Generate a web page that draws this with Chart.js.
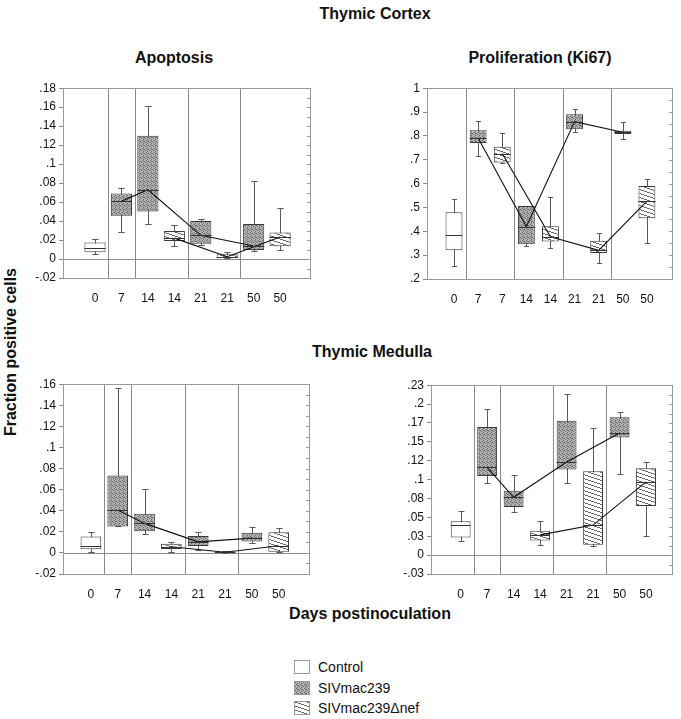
<!DOCTYPE html>
<html lang="en">
<head>
    <meta charset="UTF-8">
    <title>Thymic Cortex / Thymic Medulla</title>
    <script src="https://cdn.jsdelivr.net/npm/chart.js"></script>
    <style>
        body {
            margin: 0;
            width: 681px;
            height: 719px;
            position: relative;
            overflow: hidden;
            background: #ffffff;
            color: #111;
            font-family: "Liberation Sans", Arial, sans-serif;
        }
        .titulo {
            position: absolute;
            font-weight: bold;
            font-size: 16px;
            white-space: nowrap;
            transform: translate(-50%, -50%);
        }
        .vertical {
            transform: translate(-50%, -50%) rotate(-90deg);
        }
        canvas.panel { position: absolute; }
        .ley {
            position: absolute;
            left: 294px;
            font-size: 14px;
            display: flex;
            align-items: center;
            transform: translateY(-50%);
        }
        .ley canvas { border: 1px solid #999; margin-right: 8px; }
    </style>
</head>
<body>
    <div class="titulo" style="left:375px;top:14px">Thymic Cortex</div>
    <div class="titulo" style="left:174px;top:58px">Apoptosis</div>
    <div class="titulo" style="left:540px;top:58px">Proliferation (Ki67)</div>
    <div class="titulo" style="left:372px;top:352px">Thymic Medulla</div>
    <div class="titulo" style="left:370px;top:614px">Days postinoculation</div>
    <div class="titulo vertical" style="left:11px;top:352px">Fraction positive cells</div>

    <canvas class="panel" id="c1"></canvas>
    <canvas class="panel" id="c2"></canvas>
    <canvas class="panel" id="c3"></canvas>
    <canvas class="panel" id="c4"></canvas>

    <div class="ley" style="top:667px"><canvas id="l0" width="14" height="12"></canvas><span>Control</span></div>
    <div class="ley" style="top:688px"><canvas id="l1" width="14" height="12"></canvas><span>SIVmac239</span></div>
    <div class="ley" style="top:708px"><canvas id="l2" width="14" height="12"></canvas><span>SIVmac239&Delta;nef</span></div>

    <script>
        // grupos: 0 = Control, 1 = SIVmac239, 2 = SIVmac239Δnef
        const grupos = ['Control', 'SIVmac239', 'SIVmac239\u0394nef'];

        // corteza - apoptosis
        const diasApopC = ['0', '7', '14', '14', '21', '21', '50', '50'];
        const grupoApopC = [0, 1, 1, 2, 1, 2, 1, 2];
        const minApopC = [0.005, 0.028, 0.037, 0.014, 0.015, 0.0007, 0.0086, 0.010];
        const q1ApopC = [0.0072, 0.0456, 0.050, 0.019, 0.016, 0.001, 0.0096, 0.0134];
        const medApopC = [0.012, 0.061, 0.073, 0.022, 0.025, 0.0024, 0.0137, 0.0233];
        const q3ApopC = [0.0175, 0.069, 0.130, 0.0295, 0.040, 0.005, 0.037, 0.028];
        const maxApopC = [0.0216, 0.075, 0.161, 0.036, 0.0425, 0.0075, 0.082, 0.054];
        const ticksApopC = [-0.02, 0, 0.02, 0.04, 0.06, 0.08, 0.1, 0.12, 0.14, 0.16, 0.18];

        // corteza - proliferacion
        const diasKiC = ['0', '7', '7', '14', '14', '21', '21', '50', '50'];
        const grupoKiC = [0, 1, 2, 1, 2, 1, 2, 1, 2];
        const minKiC = [0.254, 0.715, 0.685, 0.339, 0.33, 0.815, 0.268, 0.787, 0.353];
        const q1KiC = [0.321, 0.770, 0.688, 0.346, 0.357, 0.828, 0.309, 0.808, 0.455];
        const medKiC = [0.383, 0.791, 0.726, 0.42, 0.377, 0.860, 0.32, 0.815, 0.527];
        const q3KiC = [0.480, 0.824, 0.755, 0.506, 0.421, 0.891, 0.360, 0.822, 0.590];
        const maxKiC = [0.535, 0.863, 0.811, 0.506, 0.544, 0.911, 0.394, 0.859, 0.620];
        const ticksKiC = [0.2, 0.3, 0.4, 0.5, 0.6, 0.7, 0.8, 0.9, 1];

        // medula - apoptosis
        const diasApopM = ['0', '7', '14', '14', '21', '21', '50', '50'];
        const grupoApopM = [0, 1, 1, 2, 1, 2, 1, 2];
        const minApopM = [0.0012, 0.0251, 0.0183, 0.0012, 0.0025, 0, 0.009, 0.0012];
        const q1ApopM = [0.0034, 0.0251, 0.0205, 0.0037, 0.0065, 0, 0.0108, 0.0012];
        const medApopM = [0.0065, 0.0406, 0.028, 0.0059, 0.0105, 0.0006, 0.014, 0.0068];
        const q3ApopM = [0.0155, 0.0735, 0.0372, 0.0087, 0.0161, 0.0012, 0.0192, 0.0195];
        const maxApopM = [0.0198, 0.1566, 0.061, 0.0099, 0.0195, 0.0022, 0.0245, 0.0233];
        const ticksApopM = [-0.02, 0, 0.02, 0.04, 0.06, 0.08, 0.1, 0.12, 0.14, 0.16];

        // medula - proliferacion
        const diasKiM = ['0', '7', '14', '14', '21', '21', '50', '50'];
        const grupoKiM = [0, 1, 1, 2, 1, 2, 1, 2];
        const minKiM = [0.019, 0.096, 0.0567, 0.013, 0.096, 0.0125, 0.107, 0.0247];
        const q1KiM = [0.0234, 0.1047, 0.0636, 0.0195, 0.1133, 0.0138, 0.1557, 0.0649];
        const medKiM = [0.0398, 0.1163, 0.0766, 0.0268, 0.1233, 0.0398, 0.1618, 0.0969];
        const q3KiM = [0.045, 0.1695, 0.0852, 0.0324, 0.178, 0.111, 0.1825, 0.115];
        const maxKiM = [0.058, 0.193, 0.106, 0.0458, 0.2137, 0.168, 0.189, 0.1237];
        const ticksKiM = [-0.025, 0, 0.025, 0.05, 0.075, 0.1, 0.125, 0.15, 0.175, 0.2, 0.225];
        const etiqKiM = ['-.03', '0', '.03', '.05', '.08', '.1', '.12', '.15', '.17', '.2', '.23'];

        Chart.defaults.font.family = "'Liberation Sans', Arial, sans-serif";
        Chart.defaults.color = '#111';

        function fmt(v) {
            if (v === 0) return '0';
            return String(+v.toFixed(2)).replace('0.', '.');
        }

        function tramaSIV(ctx) {
            const c = document.createElement('canvas');
            c.width = 4; c.height = 4;
            const g = c.getContext('2d');
            g.fillStyle = '#b2b2b2';
            g.fillRect(0, 0, 4, 4);
            g.fillStyle = '#686868';
            [[0, 0], [2, 1], [1, 2], [3, 3], [2, 3]].forEach(p => g.fillRect(p[0], p[1], 1, 1));
            return ctx.createPattern(c, 'repeat');
        }

        // rayado poco inclinado, un pixel por columna
        function tramaNef(ctx) {
            const c = document.createElement('canvas');
            c.width = 12; c.height = 4;
            const g = c.getContext('2d');
            g.fillStyle = '#ffffff';
            g.fillRect(0, 0, 12, 4);
            g.fillStyle = '#6a6a6a';
            for (let x = 0; x < 12; x++) g.fillRect(x, Math.floor(x / 3), 1, 1);
            return ctx.createPattern(c, 'repeat');
        }

        function rellenos(ctx) {
            return ['#ffffff', tramaSIV(ctx), tramaNef(ctx)];
        }

        // marco, separadores, linea del cero, bigotes y medianas
        function marco(p) {
            function linea(ctx, x1, y1, x2, y2) {
                ctx.beginPath();
                ctx.moveTo(x1, y1);
                ctx.lineTo(x2, y2);
                ctx.stroke();
            }
            return {
                id: 'marco',
                beforeDatasetsDraw(chart) {
                    const { ctx, chartArea: a, scales: { x, y } } = chart;
                    ctx.save();
                    ctx.lineWidth = 1;
                    ctx.strokeStyle = '#8a8a8a';
                    p.dias.forEach((d, i) => {
                        if (i > 0 && d !== p.dias[i - 1]) {
                            const px = Math.round(x.getPixelForValue(i - 0.5)) + 0.5;
                            linea(ctx, px, a.top, px, a.bottom);
                        }
                    });
                    const y0 = Math.round(y.getPixelForValue(0)) + 0.5;
                    linea(ctx, a.left, y0, a.right, y0);
                    ctx.strokeStyle = '#9a9a9a';
                    ctx.strokeRect(Math.round(a.left) + 0.5, Math.round(a.top) + 0.5,
                        Math.round(a.right - a.left), Math.round(a.bottom - a.top));
                    // marcas menores en el borde derecho
                    const t = p.yTicks;
                    for (let i = 0; i < t.length; i++) {
                        const vals = i < t.length - 1 ? [t[i], (t[i] + t[i + 1]) / 2] : [t[i]];
                        vals.forEach(v => {
                            const py = Math.round(y.getPixelForValue(v)) + 0.5;
                            linea(ctx, a.right - 3, py, a.right, py);
                        });
                    }
                    // bigotes
                    const meta = chart.getDatasetMeta(2);
                    ctx.strokeStyle = '#5a5a5a';
                    p.min.forEach((v, i) => {
                        const px = Math.round(x.getPixelForValue(i)) + 0.5;
                        const w = meta.data[i].width * 0.3;
                        const yb = Math.round(y.getPixelForValue(p.min[i])) + 0.5;
                        const yt = Math.round(y.getPixelForValue(p.max[i])) + 0.5;
                        linea(ctx, px, yb, px, yt);
                        linea(ctx, px - w / 2, yb, px + w / 2, yb);
                        linea(ctx, px - w / 2, yt, px + w / 2, yt);
                    });
                    ctx.restore();
                },
                afterDatasetsDraw(chart) {
                    const { ctx, scales: { x, y } } = chart;
                    const meta = chart.getDatasetMeta(2);
                    ctx.save();
                    ctx.strokeStyle = '#333';
                    ctx.lineWidth = 1;
                    p.med.forEach((v, i) => {
                        const px = x.getPixelForValue(i);
                        const w = meta.data[i].width;
                        const py = Math.round(y.getPixelForValue(v)) + 0.5;
                        linea(ctx, px - w / 2, py, px + w / 2, py);
                    });
                    ctx.restore();
                }
            };
        }

        function hacerPanel(p) {
            const [L, T, R, B] = p.rect;
            const cv = document.getElementById(p.id);
            const W = R - L + 56, H = B - T + 30;
            cv.width = W; cv.height = H;
            cv.style.left = (L - 50) + 'px';
            cv.style.top = (T - 6) + 'px';
            const ctx = cv.getContext('2d');
            const fondo = rellenos(ctx);

            const cajas = p.q1.map((v, i) => ({ x: i, y: [p.q1[i], p.q3[i]] }));
            const lineaDe = g => p.med.map((v, i) => ({ x: i, y: v })).filter((pt, i) => p.grupo[i] === g);

            new Chart(cv, {
                type: 'bar',
                data: {
                    datasets: [
                        { type: 'line', label: grupos[1], data: lineaDe(1), borderColor: '#111', borderWidth: 1.1, pointRadius: 0, tension: 0, order: 0 },
                        { type: 'line', label: grupos[2], data: lineaDe(2), borderColor: '#111', borderWidth: 1.1, pointRadius: 0, tension: 0, order: 0 },
                        {
                            type: 'bar', label: 'cajas', data: cajas,
                            backgroundColor: c => fondo[p.grupo[c.dataIndex]],
                            borderColor: '#3a3a3a', borderWidth: 1, borderSkipped: false,
                            barPercentage: p.ancho, categoryPercentage: 1, order: 1
                        }
                    ]
                },
                options: {
                    responsive: false,
                    animation: false,
                    layout: { padding: { left: 0, top: 6, right: 6, bottom: 0 } },
                    plugins: { legend: { display: false }, tooltip: { enabled: false } },
                    scales: {
                        x: {
                            type: 'linear', min: p.xMin, max: p.xMax, offset: false,
                            grid: { display: false }, border: { display: false },
                            afterBuildTicks: s => { s.ticks = p.dias.map((d, i) => ({ value: i })); },
                            afterFit: s => { s.height = 24; },
                            ticks: {
                                autoSkip: false, maxRotation: 0, padding: 5,
                                font: { size: 12 },
                                callback: v => p.dias[Math.round(v)]
                            }
                        },
                        y: {
                            min: p.yTicks[0], max: p.yTicks[p.yTicks.length - 1],
                            grid: { drawOnChartArea: false, drawTicks: true, tickLength: 4, color: '#888' },
                            border: { display: false },
                            afterBuildTicks: s => { s.ticks = p.yTicks.map(v => ({ value: v })); },
                            afterFit: s => { s.width = 50; },
                            ticks: {
                                padding: 3, font: { size: 12 },
                                callback: (v, i) => p.yEtiq ? p.yEtiq[i] : fmt(v)
                            }
                        }
                    }
                },
                plugins: [marco(p)]
            });
        }

        hacerPanel({ id: 'c1', rect: [63, 84, 310, 278], xMin: -1.21, xMax: 8.13, ancho: 0.8,
            dias: diasApopC, grupo: grupoApopC, min: minApopC, q1: q1ApopC, med: medApopC, q3: q3ApopC, max: maxApopC, yTicks: ticksApopC });
        hacerPanel({ id: 'c2', rect: [427, 84, 672, 279], xMin: -1.12, xMax: 9.04, ancho: 0.7,
            dias: diasKiC, grupo: grupoKiC, min: minKiC, q1: q1KiC, med: medKiC, q3: q3KiC, max: maxKiC, yTicks: ticksKiC });
        hacerPanel({ id: 'c3', rect: [63, 380, 309, 574], xMin: -1.04, xMax: 8.13, ancho: 0.77,
            dias: diasApopM, grupo: grupoApopM, min: minApopM, q1: q1ApopM, med: medApopM, q3: q3ApopM, max: maxApopM, yTicks: ticksApopM });
        hacerPanel({ id: 'c4', rect: [431, 381, 672, 574], xMin: -1.12, xMax: 7.98, ancho: 0.75,
            dias: diasKiM, grupo: grupoKiM, min: minKiM, q1: q1KiM, med: medKiM, q3: q3KiM, max: maxKiM, yTicks: ticksKiM, yEtiq: etiqKiM });

        // leyenda
        grupos.forEach((g, i) => {
            const c = document.getElementById('l' + i);
            const ctx = c.getContext('2d');
            ctx.fillStyle = rellenos(ctx)[i];
            ctx.fillRect(0, 0, c.width, c.height);
        });
    </script>
</body>
</html>
